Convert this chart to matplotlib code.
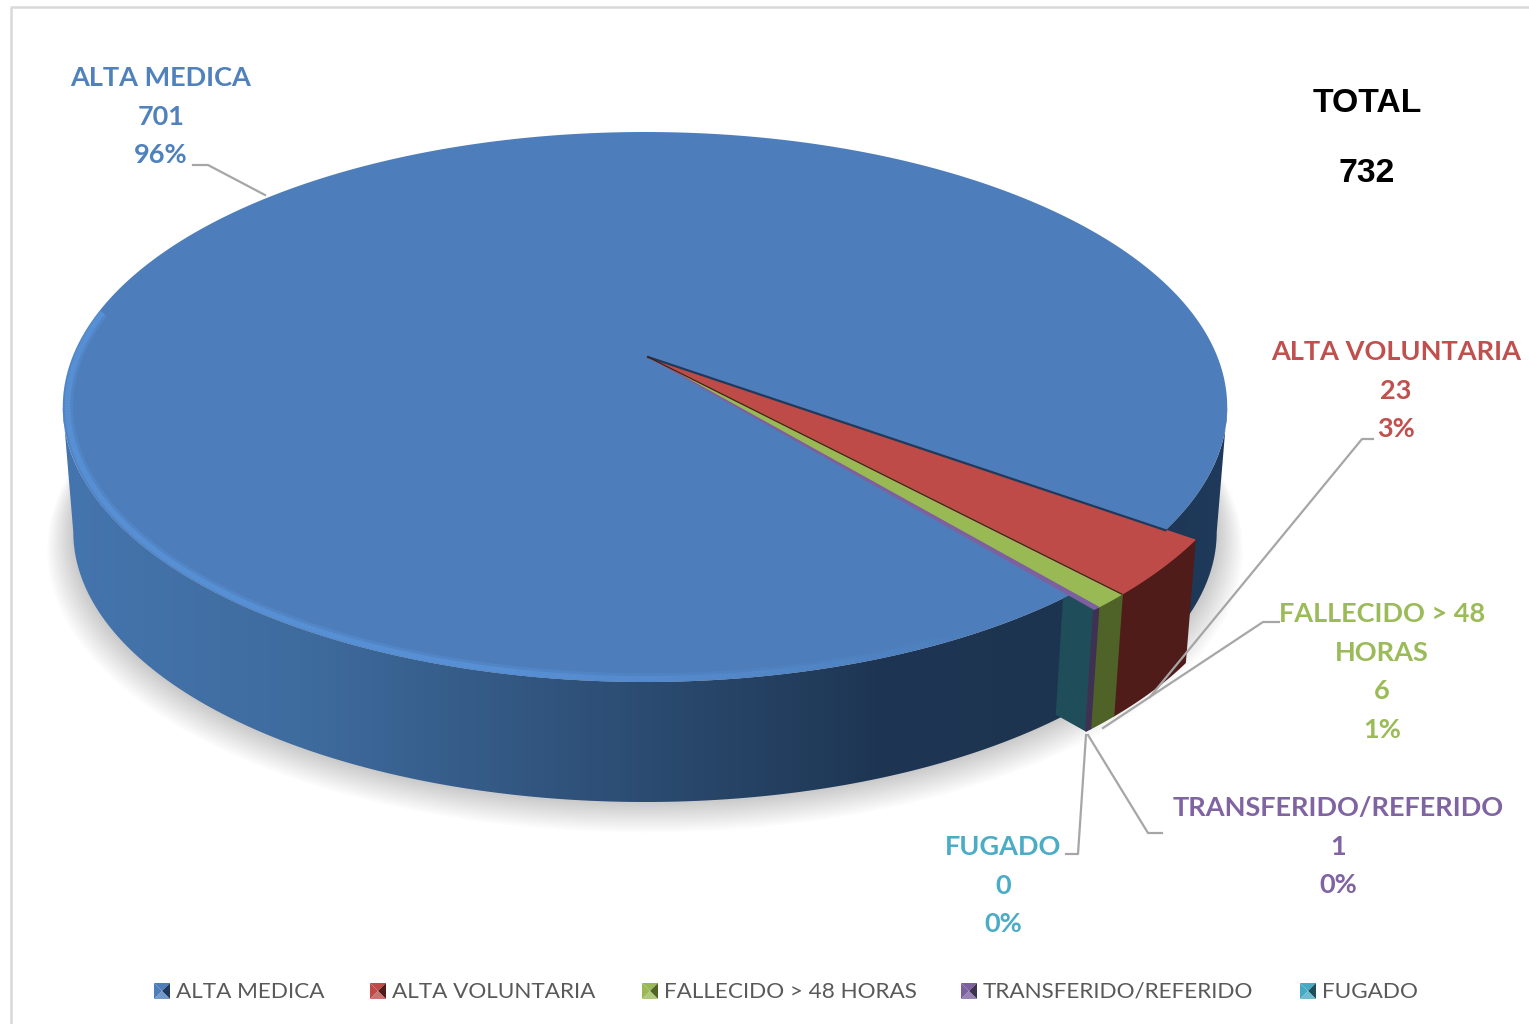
import numpy as np
import matplotlib
matplotlib.use("Agg")
import matplotlib.pyplot as plt
from matplotlib.collections import LineCollection
from matplotlib.colors import LinearSegmentedColormap
from matplotlib.patches import Polygon

categorias = ["ALTA MEDICA", "ALTA VOLUNTARIA", "FALLECIDO > 48 HORAS", "TRANSFERIDO/REFERIDO", "FUGADO"]
etiquetas = ["ALTA MEDICA", "ALTA VOLUNTARIA", "FALLECIDO > 48\nHORAS", "TRANSFERIDO/REFERIDO", "FUGADO"]
valores = [701, 23, 6, 1, 0]
total = 732

color_top = ["#4D7EBB", "#BE4B48", "#98B954", "#7D60A0", "#46AAC5"]
color_lado = ["#1F3A5C", "#4F1C1A", "#4F6228", "#3F3151", "#1F4E5A"]
color_texto = ["#4F81BD", "#C0504D", "#9BBB59", "#8064A2", "#4BACC6"]

# geometria del pastel en perspectiva (pixeles)
CX, CY = 645, 357
A, H, K = 572.5, 265.9, 0.1818
S, OFF = 0.982, 132.3
INICIO = 50.4
R_AZUL, R_RESTO = 1.0, 1.05
EXTREMO = np.degrees(np.arcsin(K))  # angulo del borde izquierdo/derecho aparente


def proyectar(r, ang, abajo=False):
    t = np.radians(ang)
    X = r * np.cos(t)
    Y = r * np.sin(t)
    w = 1 - K * Y
    x = CX + A * X / w
    y = CY + H * Y / w
    if abajo:
        x = CX + S * (x - CX)
        y = S * y + OFF
    return x, y


def arco(r, a1, a2, abajo=False, n=200):
    x, y = proyectar(r, np.linspace(a1, a2, n), abajo)
    return np.column_stack([x, y])


fig = plt.figure(figsize=(15.29, 10.24), dpi=100)
ax = fig.add_axes([0, 0, 1, 1])
ax.set_xlim(0, 1529)
ax.set_ylim(1024, 0)
ax.axis("off")

# marco
ax.plot([1529, 11, 11], [7, 7, 1024], color="#D9D9D9", lw=1.8)

# angulos desde los valores
grados = np.array(valores) / sum(valores) * 360
inicios = INICIO + np.concatenate([[0], np.cumsum(grados)[:-1]])
finales = inicios + grados

# sombra
base = arco(R_AZUL, 0, 360, abajo=True, n=300)
for i in range(14):
    esc = 1 + i * 0.0035
    p = base.copy()
    p[:, 0] = CX + (p[:, 0] - CX) * esc
    p[:, 1] = 420 + (p[:, 1] - 420) * esc + i * 1.0
    ax.add_patch(Polygon(p, closed=True, fc="black", ec="none", alpha=0.016, zorder=1))

# pared azul con degradado
pared = np.vstack([arco(R_AZUL, EXTREMO, 180 - EXTREMO),
                   arco(R_AZUL, 180 - EXTREMO, EXTREMO, abajo=True)])
cmap = LinearSegmentedColormap.from_list("pared", [
    (0.0, "#4575AE"), (0.2, "#3F6C9F"), (0.45, "#2F5179"),
    (0.7, "#1E3653"), (0.9, "#1D3450"), (1.0, "#1F3A5C")])
img = ax.imshow(np.linspace(0, 1, 400).reshape(1, -1), cmap=cmap, extent=[60, 1230, 830, 380],
                aspect="auto", zorder=2)
img.set_clip_path(Polygon(pared, closed=True, transform=ax.transData))
ax.set_xlim(0, 1529)
ax.set_ylim(1024, 0)

# cara teal del valor cero
a0 = finales[3]
xa, ya = proyectar(np.array([R_AZUL - 0.01, R_RESTO]), a0)
xb, yb = proyectar(np.array([R_RESTO, R_AZUL - 0.01]), a0, abajo=True)
ax.add_patch(Polygon(np.column_stack([np.r_[xa, xb], np.r_[ya, yb]]), closed=True,
                     fc=color_lado[4], ec=color_lado[4], lw=1.5, joinstyle="round", zorder=3))

# paredes de las rebanadas pequenas
for i in [1, 2, 3]:
    p = np.vstack([arco(R_RESTO, inicios[i], finales[i]), arco(R_RESTO, finales[i], inicios[i], abajo=True)])
    ax.add_patch(Polygon(p, closed=True, fc=color_lado[i], ec=color_lado[i], lw=1.5,
                         joinstyle="round", zorder=4))

# cara superior
x0, y0 = proyectar(0, 0)
x0 += 3  # el vertice queda un poco a la derecha del centro aparente
p_top = np.vstack([[x0, y0], arco(R_AZUL, inicios[0], finales[0], n=500)])
cara = Polygon(p_top, closed=True, fc=color_top[0], ec="none", zorder=5)
ax.add_patch(cara)
for i in [1, 2, 3]:
    p = np.vstack([[x0, y0], arco(R_RESTO, inicios[i], finales[i])])
    ax.add_patch(Polygon(p, closed=True, fc=color_top[i], ec=color_top[i], lw=1.0,
                         joinstyle="round", zorder=6))

# lineas oscuras entre rebanadas
x1, y1 = proyectar(R_AZUL, inicios[1])
ax.plot([x0, x1], [y0, y1], color="#1F3A5C", lw=1.6, zorder=7)
x1, y1 = proyectar(R_RESTO, inicios[2])
ax.plot([x0, x1], [y0, y1], color="#4F1C1A", lw=1.0, zorder=7)

# brillo del borde frontal
rim = arco(R_AZUL - 0.008, 190, 62, n=400)
seg = np.stack([rim[:-1], rim[1:]], axis=1)
fade = np.clip((1000 - seg[:, 0, 0]) / 500, 0, 1)
for lw, al in [(8, 0.22), (4, 0.42)]:
    col = np.zeros((len(seg), 4))
    col[:, :3] = matplotlib.colors.to_rgb("#62A0EC")
    col[:, 3] = al * fade
    lc = LineCollection(seg, colors=col, linewidths=lw, zorder=8, capstyle="butt")
    ax.add_collection(lc)
    lc.set_clip_path(cara)

# etiquetas
pos_etiqueta = [(161, 77), (1396, 351), (1382, 613), (1338, 807), (1003, 846)]
for i, nombre in enumerate(etiquetas):
    pct = round(valores[i] / sum(valores) * 100)
    ax.text(pos_etiqueta[i][0], pos_etiqueta[i][1] - 11, f"{nombre}\n{valores[i]}\n{pct}%",
            color=color_texto[i], family="Lato", weight="bold", fontsize=19.5,
            ha="center", va="top", linespacing=1.73, zorder=10)

# lineas guia
guias = [
    ([193, 208, 265], [165, 165, 195]),
    ([1373, 1362, 1150], [439, 439, 697]),
    ([1279, 1263, 1103], [622, 622, 728]),
    ([1162, 1148, 1088], [833, 833, 735]),
    ([1066, 1078, 1086], [854, 854, 735]),
]
for gx, gy in guias:
    ax.plot(gx, gy, color="#A6A6A6", lw=1.6, zorder=9)

# total
ax.text(1367, 104, "TOTAL", family="Liberation Sans", weight="bold", fontsize=24.3, ha="center", va="center")
ax.text(1367, 174, str(total), family="Liberation Sans", weight="bold", fontsize=24.3, ha="center", va="center")

# leyenda
ley_x = [154, 370, 642, 961, 1300]
for i, nombre in enumerate(categorias):
    x, y, t = ley_x[i], 983, 16
    c = x + t / 2
    m = y + t / 2
    ax.add_patch(Polygon([(x, y), (x + t, y), (c, m)], fc=color_top[i], ec="none"))
    ax.add_patch(Polygon([(x, y), (x, y + t), (c, m)], fc=color_top[i], ec="none"))
    ax.add_patch(Polygon([(x + t, y), (x + t, y + t), (c, m)], fc=color_lado[i], ec="none"))
    ax.add_patch(Polygon([(x, y + t), (x + t, y + t), (c, m)], fc=color_texto[i], ec="none", alpha=0.8))
    ax.text(x + 22, 992, nombre, color="#595959", family="Lato", fontsize=16.2, ha="left", va="center")

plt.savefig("out.png", dpi=100)
